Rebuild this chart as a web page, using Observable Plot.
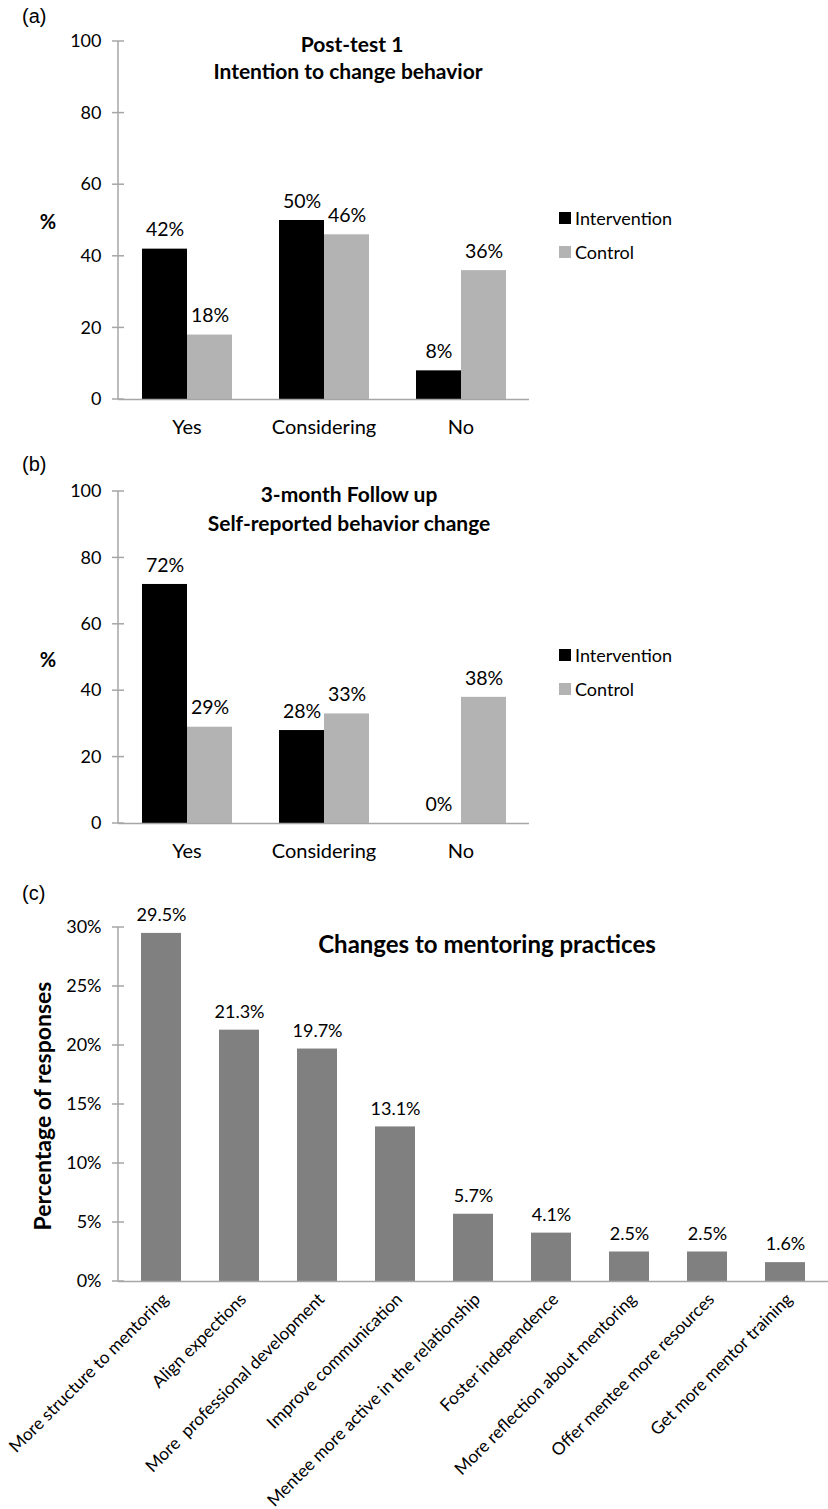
<!DOCTYPE html>
<html><head><meta charset="utf-8">
<script src="https://cdn.jsdelivr.net/npm/d3@7"></script>
<script src="https://cdn.jsdelivr.net/npm/@observablehq/plot@0.6"></script>
<style>
body{margin:0;background:#fff;font-family:Lato,"Open Sans",sans-serif;}
#wrap{position:relative;width:828px;height:1509px;overflow:hidden;}
.abs{position:absolute;white-space:nowrap;color:#000;line-height:1;}
.plot{position:absolute;left:0;overflow:visible;}
.sw{position:absolute;width:12px;height:12px;}
</style></head><body><div id="wrap"></div>
<script>
// ---- data ----
const categoriesAB = ["Yes", "Considering", "No"];
const groups = ["Intervention", "Control"];
const groupColors = ["#000000", "#b3b3b3"];
const postIntervention = [42, 50, 8];
const postControl = [18, 46, 36];
const followIntervention = [72, 28, 0];
const followControl = [29, 33, 38];
const yTicksAB = [0, 20, 40, 60, 80, 100];
const practices = ["More structure to mentoring", "Align expections", "More  professional development",
  "Improve communication", "Mentee more active in the relationship", "Foster independence",
  "More reflection about mentoring", "Offer mentee more resources", "Get more mentor training"];
const practiceValues = [29.5, 21.3, 19.7, 13.1, 5.7, 4.1, 2.5, 2.5, 1.6];
const yTicksC = [0, 5, 10, 15, 20, 25, 30];

const wrap = document.getElementById("wrap");
const AXIS = "#a6a6a6";

function place(node, top) {
  node.classList.add("plot");
  node.style.top = top + "px";
  wrap.appendChild(node);
}
function label(text, x, y, {align = "left", size = 18, weight = "normal", family = null} = {}) {
  const d = document.createElement("div");
  d.className = "abs";
  d.textContent = text;
  d.style.left = x + "px";
  d.style.top = y + "px";
  d.style.fontSize = size + "px";
  d.style.fontWeight = weight;
  if (family) d.style.fontFamily = family;
  d.style.transform = align === "center" ? "translate(-50%,-50%)" : "translate(0,-50%)";
  wrap.appendChild(d);
  return d;
}
function legend(y0, y1) {
  [y0, y1].forEach((y, i) => {
    const s = document.createElement("div");
    s.className = "sw";
    s.style.left = "559px";
    s.style.top = (y - 6) + "px";
    s.style.background = groupColors[i];
    wrap.appendChild(s);
    label(groups[i], 575, y, {size: 18});
  });
}
// y axis line + crossing ticks, positioned from the chart's own scales
function axisLine(chart, xKey, ticks) {
  const xs = chart.scale(xKey), ys = chart.scale("y");
  const x0 = Math.min(...xs.range);
  const g = d3.select(chart).append("g").attr("stroke", AXIS).attr("stroke-width", 1.5);
  g.append("line").attr("x1", x0).attr("x2", x0).attr("y1", ys.range[0]).attr("y2", ys.range[1]);
  g.selectAll("line.t").data(ticks).join("line").attr("class", "t")
    .attr("x1", x0 - 6).attr("x2", x0 + 6)
    .attr("y1", d => ys.apply(d)).attr("y2", d => ys.apply(d));
  return chart;
}

function grouped(intv, ctrl, height) {
  const data = categoriesAB.flatMap((c, i) => [
    {cat: c, group: groups[0], value: intv[i]},
    {cat: c, group: groups[1], value: ctrl[i]}
  ]);
  const chart = Plot.plot({
    width: 828, height,
    marginLeft: 118, marginRight: 299, marginTop: 41, marginBottom: 41,
    style: {fontFamily: "Lato", fontSize: "18px", color: "#000", background: "transparent"},
    fx: {domain: categoriesAB, padding: 0, label: null, axis: null},
    x: {domain: groups, paddingInner: 0, paddingOuter: 0.5, axis: null},
    y: {domain: [0, 100], axis: null},
    color: {domain: groups, range: groupColors},
    marks: [
      Plot.barY(data, {fx: "cat", x: "group", y: "value", fill: "group"}),
      Plot.ruleY([0], {stroke: AXIS, strokeWidth: 1.5}),
      Plot.text(data, {fx: "cat", x: "group", y: "value", text: d => d.value + "%", dy: -19, fontSize: 19.5}),
      Plot.axisY({ticks: yTicksAB, tickSize: 0, tickPadding: 17, fill: "#000", label: null}),
      Plot.axisFx({anchor: "bottom", tickSize: 0, tickPadding: 20, label: null, fill: "#000", fontSize: 20})
    ]
  });
  return axisLine(chart, "fx", yTicksAB);
}

// (a)
place(grouped(postIntervention, postControl, 440), 0);
label("(a)", 22, 16, {size: 20, family: "Liberation Sans"});
label("Post-test 1", 352, 43, {align: "center", size: 21, weight: "bold"});
label("Intention to change behavior", 348, 70, {align: "center", size: 21, weight: "bold"});
label("%", 48, 221, {align: "center", size: 20, weight: "bold"});
legend(218, 252);

// (b)
place(grouped(followIntervention, followControl, 414), 450);
label("(b)", 22, 464, {size: 20, family: "Liberation Sans"});
label("3-month Follow up", 349, 493, {align: "center", size: 21, weight: "bold"});
label("Self-reported behavior change", 349, 522, {align: "center", size: 21, weight: "bold"});
label("%", 48, 659, {align: "center", size: 20, weight: "bold"});
legend(655, 689);

// (c)
const cData = practices.map((p, i) => ({practice: p, value: practiceValues[i]}));
const chartC = Plot.plot({
  width: 828, height: 619,
  marginLeft: 118, marginRight: 0, marginTop: 37, marginBottom: 228,
  style: {fontFamily: "Lato", fontSize: "18px", color: "#000", background: "transparent"},
  x: {domain: practices, paddingInner: 0.49, paddingOuter: 0.27, axis: null},
  y: {domain: [0, 30], axis: null},
  marks: [
    Plot.barY(cData, {x: "practice", y: "value", fill: "#808080"}),
    Plot.ruleY([0], {stroke: AXIS, strokeWidth: 1.5}),
    Plot.text(cData, {x: "practice", y: "value", text: d => d.value.toFixed(1) + "%", dy: -18}),
    Plot.axisY({ticks: yTicksC, tickFormat: d => d + "%", tickSize: 0, tickPadding: 17, fill: "#000", label: null}),
    Plot.axisX({tickRotate: -45, tickSize: 0, tickPadding: 15, dx: 4, label: null, fill: "#000", fontSize: 17.3})
  ]
});
place(axisLine(chartC, "x", yTicksC), 890);
label("(c)", 22, 893, {size: 20, family: "Liberation Sans"});
label("Changes to mentoring practices", 487, 944, {align: "center", size: 24, weight: "bold"});
const yl = label("Percentage of responses", 42, 1106, {align: "center", size: 23, weight: "bold"});
yl.style.transform = "translate(-50%,-50%) rotate(-90deg)";
</script></body></html>
